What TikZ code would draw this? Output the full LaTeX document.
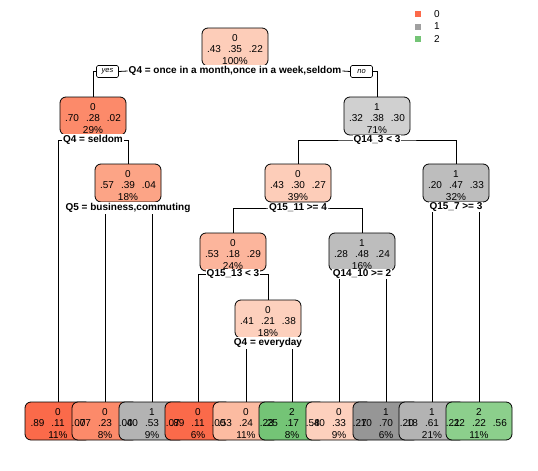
\documentclass[tikz,border=0pt]{standalone}
\usepackage{fontspec}
\setmainfont{Liberation Sans}
\usetikzlibrary{backgrounds}
\definecolor{cR1}{HTML}{FB6A4A}
\definecolor{cR2}{HTML}{FC8A6A}
\definecolor{cR3}{HTML}{FCA486}
\definecolor{cR4}{HTML}{FCB59C}
\definecolor{cR5}{HTML}{FCBBA1}
\definecolor{cR6}{HTML}{FDCDB9}
\definecolor{cR7}{HTML}{FDD0BD}
\definecolor{cG1}{HTML}{D0D0D0}
\definecolor{cG2}{HTML}{BDBDBD}
\definecolor{cG3}{HTML}{B3B3B3}
\definecolor{cG4}{HTML}{969696}
\definecolor{cN1}{HTML}{74C476}
\definecolor{cN2}{HTML}{8CCF8C}
\definecolor{kR}{HTML}{FC6A4A}
\definecolor{kG}{HTML}{A0A0A0}
\definecolor{kN}{HTML}{74C476}
\newcommand\vals[3]{#1\hspace{7pt}#2\hspace{7pt}#3}
\begin{document}
\begin{tikzpicture}[x=1pt,y=-1pt,
  box/.style={draw=black, line width=0.8pt, rounded corners=6pt, minimum width=66pt, minimum height=38pt, inner sep=0pt},
  txt/.style={align=center, inner sep=0pt, yshift=-2.5pt, font=\fontsize{10}{11.5}\selectfont},
  split/.style={fill=white, inner sep=1pt, font=\bfseries\fontsize{10}{12}\selectfont},
  yn/.style={draw=black, line width=0.6pt, fill=white, rounded corners=1.5pt, font=\itshape\fontsize{7.5}{9}\selectfont, minimum width=22pt, minimum height=12pt, inner sep=0pt},
  edge/.style={line width=0.8pt},
  key/.style={minimum size=6pt, inner sep=0pt},
  keytxt/.style={anchor=west, inner sep=0pt, font=\fontsize{10}{12}\selectfont}]
\path[use as bounding box] (0,0) rectangle (538,471);

% internal nodes
\node[box, fill=cR6] (n1) at (235,47) {};
\node[box, fill=cR2] (n2) at (93,116) {};
\node[box, fill=cG1] (n3) at (377,116) {};
\node[box, fill=cR3] (n4) at (128,183) {};
\node[box, fill=cR6] (n5) at (298,183) {};
\node[box, fill=cG2] (n6) at (456,183) {};
\node[box, fill=cR4] (n7) at (233,252) {};
\node[box, fill=cG2] (n8) at (362,252) {};
\node[box, fill=cR7] (n9) at (268,319) {};
\node[txt] (m1) at (n1) {0\\\vals{.43}{.35}{.22}\\100\%};
\node[txt] (m2) at (n2) {0\\\vals{.70}{.28}{.02}\\29\%};
\node[txt] (m3) at (n3) {1\\\vals{.32}{.38}{.30}\\71\%};
\node[txt] (m4) at (n4) {0\\\vals{.57}{.39}{.04}\\18\%};
\node[txt] (m5) at (n5) {0\\\vals{.43}{.30}{.27}\\39\%};
\node[txt] (m6) at (n6) {1\\\vals{.20}{.47}{.33}\\32\%};
\node[txt] (m7) at (n7) {0\\\vals{.53}{.18}{.29}\\24\%};
\node[txt] (m8) at (n8) {1\\\vals{.28}{.48}{.24}\\16\%};
\node[txt] (m9) at (n9) {0\\\vals{.41}{.21}{.38}\\18\%};

% leaf boxes
\node[box, fill=cR1] (L1) at (58,421) {};
\node[box, fill=cR2] (L2) at (105,421) {};
\node[box, fill=cG3] (L3) at (152,421) {};
\node[box, fill=cR1] (L4) at (198,421) {};
\node[box, fill=cR5] (L5) at (246,421) {};
\node[box, fill=cN1] (L6) at (292,421) {};
\node[box, fill=cR7] (L7) at (339,421) {};
\node[box, fill=cG4] (L8) at (386,421) {};
\node[box, fill=cG3] (L9) at (432,421) {};
\node[box, fill=cN2] (L10) at (479,421) {};

% leaf texts (drawn after all boxes, so they overlap as in the reference)
\node[txt] (T1) at (L1) {0\\\vals{.89}{.11}{.00}\\11\%};
\node[txt] (T2) at (L2) {0\\\vals{.77}{.23}{.00}\\8\%};
\node[txt] (T3) at (L3) {1\\\vals{.40}{.53}{.07}\\9\%};
\node[txt] (T4) at (L4) {0\\\vals{.89}{.11}{.00}\\6\%};
\node[txt] (T5) at (L5) {0\\\vals{.53}{.24}{.23}\\11\%};
\node[txt] (T6) at (L6) {2\\\vals{.25}{.17}{.58}\\8\%};
\node[txt] (T7) at (L7) {0\\\vals{.40}{.33}{.27}\\9\%};
\node[txt] (T8) at (L8) {1\\\vals{.10}{.70}{.20}\\6\%};
\node[txt] (T9) at (L9) {1\\\vals{.18}{.61}{.21}\\21\%};
\node[txt] (T10) at (L10) {2\\\vals{.22}{.22}{.56}\\11\%};

% split labels
\node[split] (s1) at (235,71) {Q4 = once in a month,once in a week,seldom};
\node[split] (s2) at (93,140) {Q4 = seldom};
\node[split] (s3) at (377,140) {Q14\_3 < 3};
\node[split] (s4) at (128,208) {Q5 = business,commuting};
\node[split] (s5) at (298,208) {Q15\_11 >= 4};
\node[split] (s6) at (456,207) {Q15\_7 >= 3};
\node[split] (s7) at (233,274) {Q15\_13 < 3};
\node[split] (s8) at (362,274) {Q14\_10 >= 2};
\node[split] (s9) at (268,343) {Q4 = everyday};
\node[yn] (yes) at (107.5,71.5) {yes};
\node[yn] (no) at (361.5,71.5) {no};

% connectors
\begin{scope}[on background layer]
\draw[edge] (n2.north) |- (yes.west);
\draw[edge] (yes.east) -- (s1.west);
\draw[edge] (s1.east) -- (no.west);
\draw[edge] (no.east) -| (n3.north);
\draw[edge] (L1.north) |- (s2.center) -| (n4.north);
\draw[edge] (n5.north) |- (s3.center) -| (n6.north);
\draw[edge] (L2.north) |- (s4.center) -| (L3.north);
\draw[edge] (n7.north) |- (s5.center) -| (n8.north);
\draw[edge] (L9.north) |- (s6.center) -| (L10.north);
\draw[edge] (L4.north) |- (s7.center) -| (n9.north);
\draw[edge] (L7.north) |- (s8.center) -| (L8.north);
\draw[edge] (L5.north) |- (s9.center) -| (L6.north);
\end{scope}

% legend
\node[key, fill=kR] (k0) at (418,14) {};
\node[key, fill=kG] (k1) at (418,26.5) {};
\node[key, fill=kN] (k2) at (418,39) {};
\node[keytxt] (t0) at (434,14) {0};
\node[keytxt] (t1) at (434,26.5) {1};
\node[keytxt] (t2) at (434,39) {2};
\end{tikzpicture}
\end{document}
